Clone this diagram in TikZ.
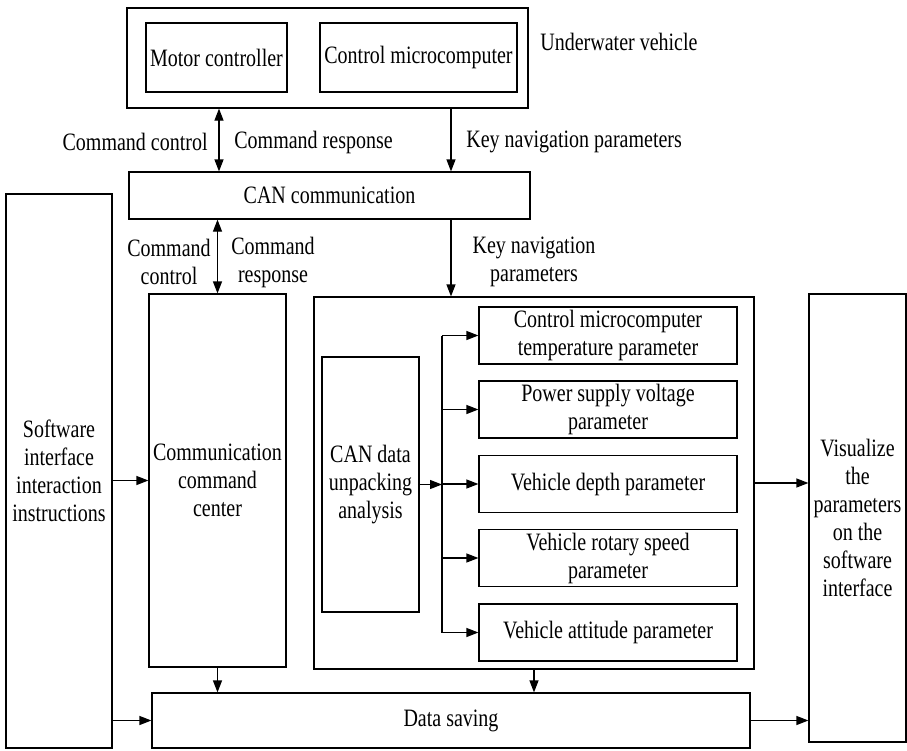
\documentclass[tikz,border=0pt]{standalone}
\usepackage{fontspec}
\setmainfont{Liberation Serif}[FakeStretch=0.8]
\usetikzlibrary{arrows.meta}

\begin{document}
\begin{tikzpicture}[
    x=0.5pt, y=-0.5pt,
    >={Triangle[length=6pt, width=4.5pt]},
    every node/.style={font=\fontsize{12.5}{14}\selectfont},
    box/.style={rectangle, draw=black, line width=0.6pt, inner sep=1pt, align=center},
    param/.style={box, minimum width=129pt, minimum height=28.5pt},
    lbl/.style={inner sep=0pt, align=center},
    line/.style={line width=0.6pt}
]
    \useasboundingbox (0,0) rectangle (907,751);

    % Underwater vehicle
    \node[box, minimum width=200.5pt, minimum height=50pt] (vehicle) at (327.5,58) {};
    \node[box, minimum width=70.5pt, minimum height=34.5pt] (motor) at (216.5,57.5) {Motor controller};
    \node[box, minimum width=98.5pt, minimum height=34.5pt] (micro) at (418.5,57.5) {Control microcomputer};
    \node[lbl, anchor=west] (uvlabel) at (540,42) {Underwater vehicle};

    % CAN bus
    \node[box, minimum width=200.5pt, minimum height=23.5pt] (can) at (329.5,195.5) {CAN communication};

    % Left column
    \node[box, minimum width=53pt, minimum height=277pt] (software) at (59,471) {Software\\interface\\interaction\\instructions};
    \node[box, minimum width=68.5pt, minimum height=186.5pt] (center) at (217.5,480.5) {Communication\\command\\center};

    % Parameter parsing
    \node[box, minimum width=220pt, minimum height=186pt] (parse) at (534,483) {};
    \node[box, minimum width=48.5pt, minimum height=127.5pt] (unpack) at (370.5,484.5) {CAN data\\unpacking\\analysis};
    \node[param] (temp) at (608,335.5) {Control microcomputer\\temperature parameter};
    \node[param] (volt) at (608,409.5) {Power supply voltage\\parameter};
    \node[param] (depth) at (608,484) {Vehicle depth parameter};
    \node[param] (speed) at (608,558) {Vehicle rotary speed\\parameter};
    \node[param] (attitude) at (608,632.5) {Vehicle attitude parameter};

    % Output
    \node[box, minimum width=299pt, minimum height=27.5pt] (saving) at (451,720.5) {Data saving};
    \node[box, minimum width=48.5pt, minimum height=224pt] (visual) at (857.5,518) {Visualize\\the\\parameters\\on the\\software\\interface};

    % Arrow positions
    \coordinate (cmdx) at (219,0);
    \coordinate (keyx) at (451,0);
    \coordinate (bus) at (442,0);

    % Vehicle <-> CAN
    \draw[line, <->] (vehicle.south -| cmdx) -- (can.north -| cmdx);
    \node[lbl, anchor=east] (cc1) at (208,142) {Command control};
    \node[lbl, anchor=west] (cr1) at (234,142) {Command response};
    \draw[line, ->] (vehicle.south -| keyx) -- (can.north -| keyx);
    \node[lbl, anchor=west] (kn1) at (466,142) {Key navigation parameters};

    % CAN <-> command center
    \draw[line, <->] (can.south -| center.north) -- (center.north);
    \node[lbl] (cc2) at (169,262) {Command\\control};
    \node[lbl] (cr2) at (273,262) {Command\\response};
    \draw[line, ->] (can.south -| keyx) -- (parse.north -| keyx);
    \node[lbl] (kn2) at (534,262) {Key navigation\\parameters};

    % Unpacking branches
    \draw[line, ->] (unpack.east) -- (unpack.east -| bus);
    \draw[line] (temp.west -| bus) -- (attitude.west -| bus);
    \draw[line, ->] (temp.west -| bus) -- (temp.west);
    \draw[line, ->] (volt.west -| bus) -- (volt.west);
    \draw[line, ->] (depth.west -| bus) -- (depth.west);
    \draw[line, ->] (speed.west -| bus) -- (speed.west);
    \draw[line, ->] (attitude.west -| bus) -- (attitude.west);

    % Left column arrows
    \draw[line, ->] (software.east |- center.west) -- (center.west);
    \draw[line, ->] (software.east |- saving.west) -- (saving.west);
    \draw[line, ->] (center.south) -- (saving.north -| center.south);
    \draw[line, ->] (parse.south) -- (saving.north -| parse.south);

    % To visualization
    \draw[line, ->] (parse.east) -- (visual.west |- parse.east);
    \draw[line, ->] (saving.east) -- (visual.west |- saving.east);
\end{tikzpicture}
\end{document}
